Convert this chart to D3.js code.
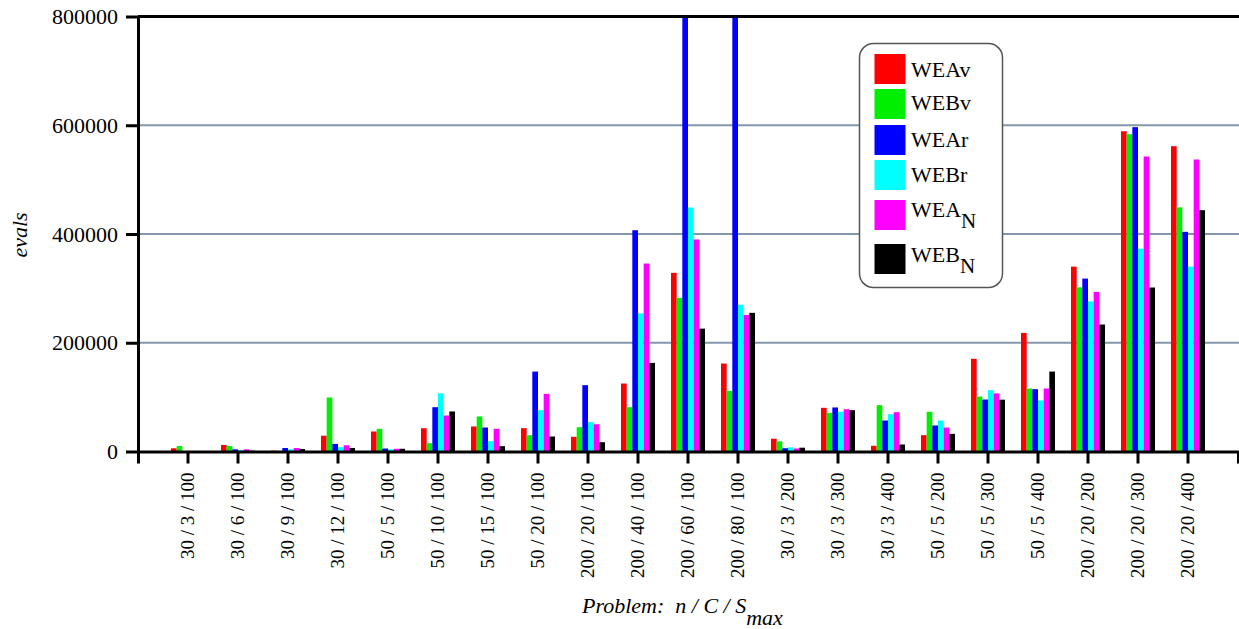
<!DOCTYPE html>
<html>
<head>
<meta charset="utf-8">
<script src="https://cdn.jsdelivr.net/npm/d3@7"></script>
<style>
  body { margin: 0; background: #fff; }
  svg text { font-family: "Liberation Serif", "Times New Roman", serif !important; }
</style>
</head>
<body>
<div id="chart"></div>
<script>
const categories = ["30 / 3 / 100", "30 / 6 / 100", "30 / 9 / 100", "30 / 12 / 100", "50 / 5 / 100",
    "50 / 10 / 100", "50 / 15 / 100", "50 / 20 / 100", "200 / 20 / 100", "200 / 40 / 100",
    "200 / 60 / 100", "200 / 80 / 100", "30 / 3 / 200", "30 / 3 / 300", "30 / 3 / 400",
    "50 / 5 / 200", "50 / 5 / 300", "50 / 5 / 400", "200 / 20 / 200", "200 / 20 / 300", "200 / 20 / 400"];

const seriesNames = ["WEAv", "WEBv", "WEAr", "WEBr", "WEA_N", "WEB_N"];
const seriesColors = ["#ff0000", "#00ee00", "#0000ff", "#00ffff", "#ff00ff", "#000000"];

const weaV = [5900, 12000, 1500, 29000, 36800, 42800, 46000, 42900, 27000, 125000, 328600,
    161800, 23500, 80300, 10500, 30000, 170500, 218000, 340000, 589000, 561500];
const webV = [10000, 10000, 500, 99300, 41700, 15300, 64400, 30000, 44700, 81500, 282600,
    111600, 18700, 71100, 85200, 73000, 101000, 115800, 302000, 583600, 449000];
const weaR = [500, 4000, 6400, 14000, 5500, 81500, 44100, 147000, 122000, 407000, 1200000,
    1200000, 6000, 81000, 57000, 47800, 95600, 114600, 318000, 596500, 404000];
const webR = [500, 2700, 4000, 8000, 4000, 107000, 19000, 76000, 54000, 254000, 448700,
    270000, 7600, 73000, 68600, 57000, 112700, 93800, 276000, 373000, 340000];
const weaN = [500, 4000, 6400, 11500, 5000, 66200, 41700, 106000, 50000, 345700, 390000,
    251000, 5500, 77800, 72300, 44100, 107000, 115800, 293600, 542500, 537000];
const webN = [500, 1500, 4500, 6500, 5000, 73600, 9800, 27600, 17100, 163000, 226000,
    255000, 7000, 76000, 12900, 32500, 95300, 147000, 233500, 301600, 443800];

const yTicks = [0, 200000, 400000, 600000, 800000];

const seriesValues = [weaV, webV, weaR, webR, weaN, webN];

const width = 1239, height = 629;
const plotLeft = 138, plotRight = 1238, plotTop = 16.5, plotBottom = 451.5;

const svg = d3.select("#chart").append("svg")
    .attr("width", width)
    .attr("height", height);

const x = d3.scaleBand()
    .domain(categories)
    .range([plotLeft, plotRight])
    .paddingInner(0)
    .paddingOuter(0.5);

const xInner = d3.scaleBand()
    .domain(seriesNames)
    .range([8, 42]);

const y = d3.scaleLinear()
    .domain([0, 800000])
    .range([plotBottom, plotTop])
    .clamp(true);

// grid lines
svg.append("g")
    .selectAll("line")
    .data(yTicks.filter(d => d > 0 && d < 800000))
    .enter().append("line")
    .attr("x1", plotLeft).attr("x2", width)
    .attr("y1", d => y(d)).attr("y2", d => y(d))
    .attr("stroke", "#8496aa")
    .attr("stroke-width", 2);

// bars
const groups = svg.append("g")
    .selectAll("g")
    .data(categories)
    .enter().append("g")
    .attr("transform", d => `translate(${x(d)},0)`);

groups.selectAll("rect")
    .data((d, i) => seriesNames.map((s, j) => ({ s, v: seriesValues[j][i], c: seriesColors[j] })))
    .enter().append("rect")
    .attr("x", d => xInner(d.s))
    .attr("width", xInner.bandwidth())
    .attr("y", d => y(d.v))
    .attr("height", d => y(0) - y(d.v))
    .attr("fill", d => d.c);

// top frame line
svg.append("line")
    .attr("x1", plotLeft).attr("x2", width)
    .attr("y1", plotTop).attr("y2", plotTop)
    .attr("stroke", "#000")
    .attr("stroke-width", 3);

// x axis
const xAxis = svg.append("g")
    .attr("transform", `translate(0,${plotBottom})`)
    .call(d3.axisBottom(x).tickSize(12).tickSizeOuter(12).tickPadding(10));
xAxis.select(".domain").attr("stroke-width", 3);
xAxis.selectAll(".tick line").attr("stroke-width", 3);
xAxis.selectAll(".tick text")
    .attr("font-size", 19)
    .attr("fill", "#000")
    .attr("transform", "rotate(-90)")
    .attr("text-anchor", "end")
    .attr("x", -21)
    .attr("y", 0)
    .attr("dy", "0.33em");

// y axis
const yAxis = svg.append("g")
    .attr("transform", `translate(${plotLeft},0)`)
    .call(d3.axisLeft(y).tickValues(yTicks).tickFormat(d3.format("d")).tickSize(12).tickSizeOuter(0).tickPadding(8));
yAxis.select(".domain").attr("stroke-width", 3);
yAxis.selectAll(".tick line").attr("stroke-width", 3);
yAxis.selectAll(".tick text")
    .attr("font-size", 22)
    .attr("fill", "#000");

// axis titles
svg.append("text")
    .attr("transform", "translate(27,235) rotate(-90)")
    .attr("text-anchor", "middle")
    .attr("font-size", 22)
    .attr("font-style", "italic")
    .text("evals");

const xt = svg.append("text")
    .attr("x", 582)
    .attr("y", 613)
    .attr("font-size", 22)
    .attr("font-style", "italic")
    .style("white-space", "pre");
xt.append("tspan").text("Problem:  n / C / S");
xt.append("tspan").attr("dy", 12).text("max");

// legend
const legend = svg.append("g").attr("transform", "translate(859.5,43.5)");
legend.append("rect")
    .attr("width", 143)
    .attr("height", 244)
    .attr("rx", 14)
    .attr("fill", "#fff")
    .attr("stroke", "#555")
    .attr("stroke-width", 1.5);

const swatchY = [10.5, 45.5, 81.5, 116.5, 156.5, 200.5];
const labelY = [33.5, 66.5, 103.5, 138.5, 173.5, 218.5];

seriesNames.forEach((s, i) => {
    legend.append("rect")
        .attr("x", 15)
        .attr("y", swatchY[i])
        .attr("width", 31)
        .attr("height", 30)
        .attr("fill", seriesColors[i]);
    const t = legend.append("text")
        .attr("x", 51.5)
        .attr("y", labelY[i])
        .attr("font-size", 22);
    const parts = s.split("_");
    t.append("tspan").text(parts[0]);
    if (parts[1]) t.append("tspan").attr("dy", 11).attr("font-size", 21).text(parts[1]);
});
</script>
</body>
</html>
